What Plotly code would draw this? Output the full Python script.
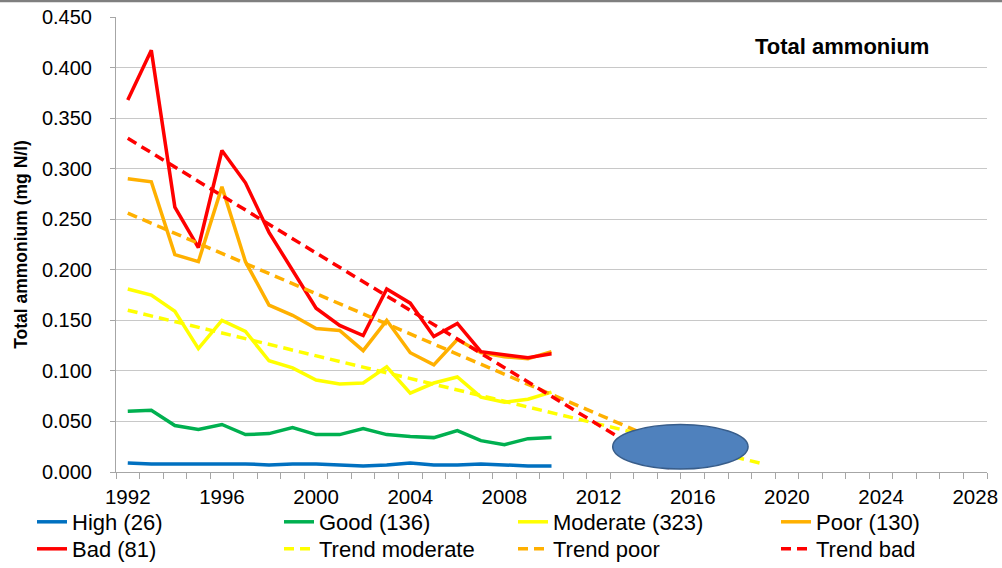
import plotly.graph_objects as go

years = [1992, 1993, 1994, 1995, 1996, 1997, 1998, 1999, 2000, 2001,
         2002, 2003, 2004, 2005, 2006, 2007, 2008, 2009, 2010]
high = [0.009, 0.008, 0.008, 0.008, 0.008, 0.008, 0.007, 0.008, 0.008, 0.007,
        0.006, 0.007, 0.009, 0.007, 0.007, 0.008, 0.007, 0.006, 0.006]
good = [0.060, 0.061, 0.046, 0.042, 0.047, 0.037, 0.038, 0.044, 0.037, 0.037,
        0.043, 0.037, 0.035, 0.034, 0.041, 0.031, 0.027, 0.033, 0.034]
moderate = [0.181, 0.175, 0.159, 0.122, 0.150, 0.139, 0.110, 0.103, 0.091, 0.087,
            0.088, 0.104, 0.078, 0.088, 0.094, 0.074, 0.069, 0.072, 0.079]
poor = [0.290, 0.287, 0.215, 0.208, 0.282, 0.208, 0.165, 0.155, 0.142, 0.140,
        0.120, 0.150, 0.118, 0.106, 0.131, 0.118, 0.114, 0.112, 0.119]
bad = [0.368, 0.417, 0.262, 0.222, 0.318, 0.286, 0.237, 0.200, 0.162, 0.145,
       0.135, 0.181, 0.167, 0.134, 0.147, 0.119, 0.116, 0.113, 0.117]

trend_moderate_years = [1992, 2019]
trend_moderate = [0.160, 0.008]
trend_poor_years = [1992, 2016]
trend_poor = [0.256, 0.017]
trend_bad_years = [1992, 2015]
trend_bad = [0.330, 0.004]

tick_years = [1992, 1996, 2000, 2004, 2008, 2012, 2016, 2020, 2024, 2028]
y_ticks = [0.0, 0.05, 0.1, 0.15, 0.2, 0.25, 0.3, 0.35, 0.4, 0.45]

# target ellipse (year range, value range)
ellipse_x = [2012.6, 2018.35]
ellipse_y = [0.003, 0.047]

C_HIGH = "#0070C0"
C_GOOD = "#00B050"
C_MOD = "#FFFF00"
C_POOR = "#FFB000"
C_BAD = "#FF0000"

FONT = "Liberation Sans, Arial, sans-serif"
LW = 3.5
DASH = "10px,6px"

fig = go.Figure()
series = [
    ("High (26)", years, high, C_HIGH, "solid", "legend"),
    ("Good (136)", years, good, C_GOOD, "solid", "legend2"),
    ("Moderate (323)", years, moderate, C_MOD, "solid", "legend3"),
    ("Poor (130)", years, poor, C_POOR, "solid", "legend4"),
    ("Bad (81)", years, bad, C_BAD, "solid", "legend5"),
    ("Trend moderate", trend_moderate_years, trend_moderate, C_MOD, DASH, "legend6"),
    ("Trend poor", trend_poor_years, trend_poor, C_POOR, DASH, "legend7"),
    ("Trend bad", trend_bad_years, trend_bad, C_BAD, DASH, "legend8"),
]
for name, xs, ys, col, dash, leg in series:
    fig.add_trace(go.Scatter(x=xs, y=ys, mode="lines", name=name,
                             line=dict(color=col, width=LW, dash=dash),
                             legend=leg, hoverinfo="x+y+name"))

fig.add_shape(type="circle", xref="x", yref="y",
              x0=ellipse_x[0], x1=ellipse_x[1], y0=ellipse_y[0], y1=ellipse_y[1],
              fillcolor="#4F81BD", line=dict(color="#385D8A", width=1.5), layer="above")

# top frame line
fig.add_shape(type="line", xref="paper", yref="paper", x0=-0.2, x1=1.1,
              y0=1 + 16/455, y1=1 + 16/455, line=dict(color="#7F7F7F", width=2.5))

fig.add_annotation(text="<b>Total ammonium</b>", xref="paper", yref="paper",
                   x=(842 - 116) / 871, y=1 - (47 - 17) / 455, showarrow=False,
                   xanchor="center", yanchor="middle",
                   font=dict(family=FONT, size=22, color="#000000"))

legend_common = dict(orientation="v", xanchor="left", yanchor="top",
                     bgcolor="rgba(0,0,0,0)", font=dict(family=FONT, size=22, color="#000"),
                     tracegroupgap=0, itemwidth=30)
cols_px = [32, 279, 513, 776]
rows_px = [501, 528]
legends = {}
k = 0
for r in rows_px:
    for c in cols_px:
        k += 1
        key = "legend" if k == 1 else "legend%d" % k
        legends[key] = dict(x=(c - 116) / 871, y=(472 - r) / 455, **legend_common)

fig.update_layout(
    width=1002, height=568,
    margin=dict(l=116, r=15, t=17, b=96, autoexpand=False),
    paper_bgcolor="white", plot_bgcolor="white",
    font=dict(family=FONT, size=20, color="#000"),
    showlegend=True,
    **legends,
    xaxis=dict(range=[1991.5, 2028.5], tickvals=tick_years,
               ticktext=[str(t) for t in tick_years],
               ticks="outside", ticklen=6, tickcolor="rgba(0,0,0,0)",
               showgrid=False, zeroline=False,
               showline=True, linecolor="#A6A6A6", linewidth=1,
               tickfont=dict(family=FONT, size=20.5, color="#000"),
               minor=dict(tick0=1991.5, dtick=1, ticks="outside", ticklen=6,
                          tickcolor="#A6A6A6", showgrid=False)),
    yaxis=dict(range=[0, 0.45], tickvals=y_ticks,
               ticktext=["%.3f" % v for v in y_ticks],
               ticks="outside", ticklen=5, tickcolor="#A6A6A6",
               showgrid=True, gridcolor="#C8C8C8", gridwidth=1,
               zeroline=False, showline=True, linecolor="#A6A6A6", linewidth=1,
               tickfont=dict(family=FONT, size=20, color="#000"),
               ticklabelstandoff=14,
               title=dict(text="<b>Total ammonium (mg N/l)</b>",
                          font=dict(family=FONT, size=17.5, color="#000"),
                          standoff=9)),
)

fig.write_html("out.html", config={"displayModeBar": False},
               post_script="document.body.style.margin='0px';")
